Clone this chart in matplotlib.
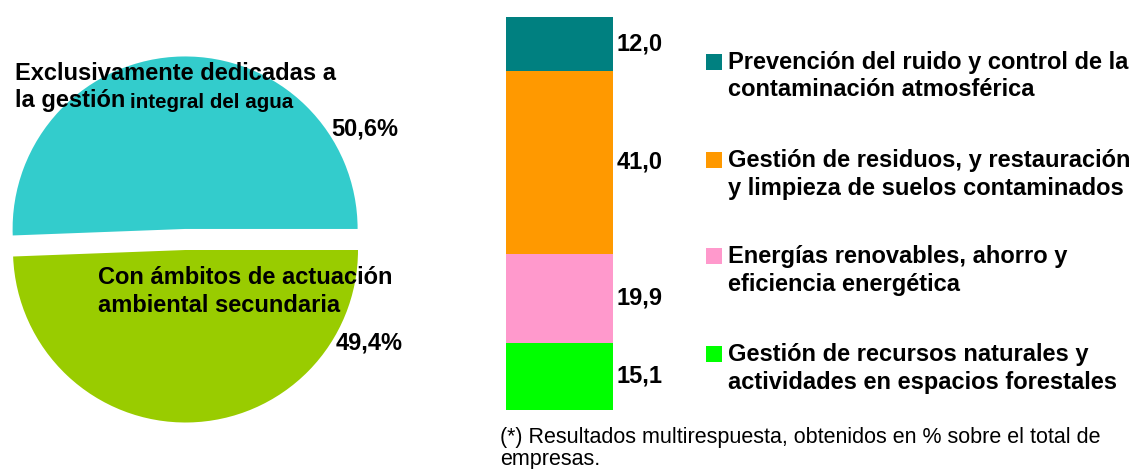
import matplotlib
matplotlib.use("Agg")
import matplotlib.pyplot as plt
from matplotlib.patches import Rectangle

plt.rcParams['font.family'] = ['Liberation Sans', 'DejaVu Sans']

# pie data
pie_labels = ["Exclusivamente dedicadas a\nla gestión integral del agua",
              "Con ámbitos de actuación\nambiental secundaria"]
pie_values = [50.6, 49.4]
pie_colors = ["#33CCCC", "#99CC00"]

# stacked bar data (bottom to top)
bar_labels = ["Gestión de recursos naturales y\nactividades en espacios forestales",
              "Energías renovables, ahorro y\neficiencia energética",
              "Gestión de residuos, y restauración\ny limpieza de suelos contaminados",
              "Prevención del ruido y control de la\ncontaminación atmosférica"]
bar_values = [15.1, 19.9, 41.0, 12.0]
bar_colors = ["#00FF00", "#FF99CC", "#FF9900", "#008080"]

note = "(*) Resultados multirespuesta, obtenidos en % sobre el total de\nempresas."

W, H = 1138, 469
fig = plt.figure(figsize=(W / 100, H / 100), dpi=100)


def fx(x):
    return x / W


def fy(y):
    return 1 - y / H


# ---- pie ----
r_px = 172.5
cx, cy = 185.5, 250
xl, yl0, yl1 = 1.05, -1.05, 1.2
axp = fig.add_axes([fx(cx - xl * r_px), fy(cy - yl0 * r_px),
                    2 * xl * r_px / W, (yl1 - yl0) * r_px / H])
axp.pie(pie_values, colors=pie_colors, startangle=0, counterclock=True,
        explode=[0.122, 0], radius=1, wedgeprops=dict(linewidth=0))
axp.set_xlim(-xl, xl)
axp.set_ylim(yl0, yl1)
axp.set_aspect('auto')
axp.axis('off')

fs = 17
name_pos = [(15, 73), (98, 277)]
pct_pos = [(331, 129), (336, 343)]
for lab, v, (x, y), (px_, py_) in zip(pie_labels, pie_values, name_pos, pct_pos):
    for i, line in enumerate(lab.split("\n")):
        if line.startswith("la gestión "):
            # the source draws the tail of this line a bit smaller
            head, tail = "la gestión", line[len("la gestión "):]
            fig.text(fx(x), fy(y + i * 28), head, fontsize=fs, fontweight='bold',
                     ha='left', va='center')
            fig.text(fx(130), fy(y + i * 28 + 1), tail, fontsize=14.8,
                     fontweight='bold', ha='left', va='center')
        else:
            fig.text(fx(x), fy(y + i * 28), line, fontsize=fs, fontweight='bold',
                     ha='left', va='center')
    fig.text(fx(px_), fy(py_), f"{v:.1f}%".replace(".", ","), fontsize=fs,
             fontweight='bold', ha='left', va='center')

# ---- stacked bar ----
x0, x1, y_top, y_bot = 506, 613, 17, 410
axb = fig.add_axes([fx(x0), fy(y_bot), (x1 - x0) / W, (y_bot - y_top) / H])
bottom = 0
label_y = []
for v, c in zip(bar_values, bar_colors):
    axb.bar(0, v, width=1, bottom=bottom, color=c, linewidth=0)
    label_y.append(bottom + v / 2)
    bottom += v
axb.set_xlim(-0.5, 0.5)
axb.set_ylim(0, bottom)
axb.axis('off')
for v, yv in zip(bar_values, label_y):
    axb.text(0.53, yv, f"{v:.1f}".replace(".", ","), fontsize=fs, fontweight='bold',
             ha='left', va='center', clip_on=False)

# ---- legend (top entry first) ----
leg_y = [62, 160, 256, 354]
for lab, c, y in zip(bar_labels[::-1], bar_colors[::-1], leg_y):
    fig.patches.append(Rectangle((fx(706), fy(y + 8)), 16 / W, 16 / H,
                                 transform=fig.transFigure, color=c, linewidth=0))
    for i, line in enumerate(lab.split("\n")):
        fig.text(fx(728), fy(y + i * 28), line, fontsize=fs, fontweight='bold',
                 ha='left', va='center')

# ---- note ----
for i, line in enumerate(note.split("\n")):
    fig.text(fx(500), fy(437 + i * 22), line, fontsize=15.5,
             ha='left', va='center')

fig.savefig("out.png", dpi=100)
